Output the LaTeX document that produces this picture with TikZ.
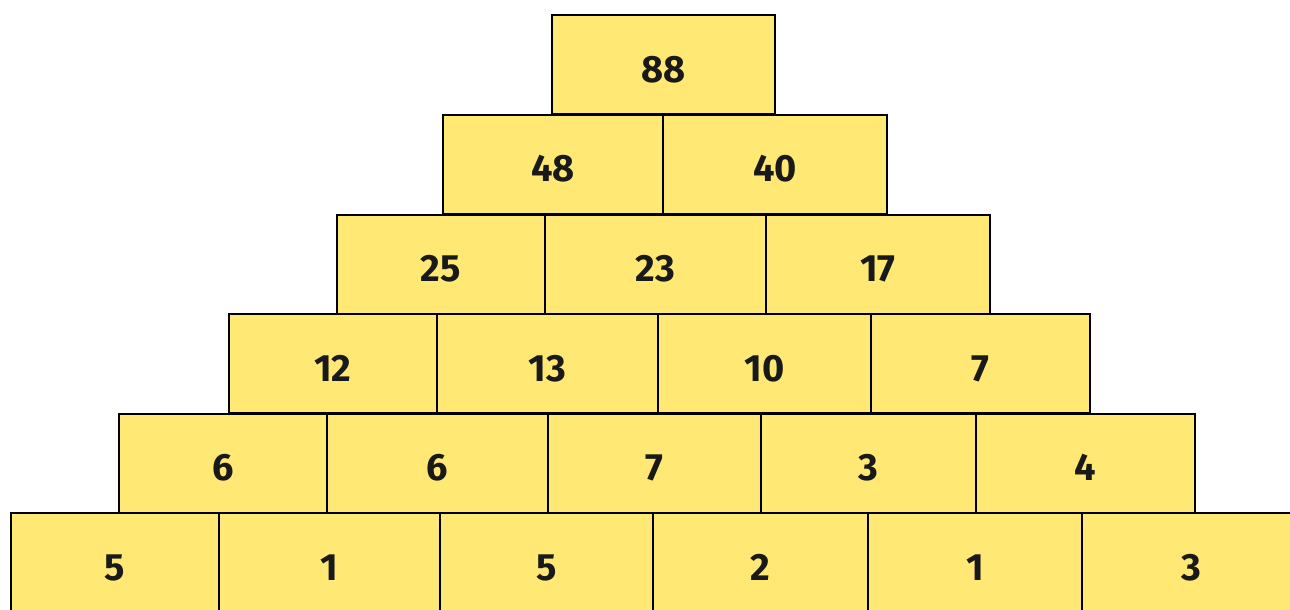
\documentclass[tikz,border=0pt]{standalone}
\usepackage{fontspec}
\setmainfont{Fira Sans}
\usepackage{xcolor}
\usepackage{tikz}
\definecolor{brick}{HTML}{FFE873}

\begin{document}
\begin{tikzpicture}[
  x=1pt, y=-1pt,
  font=\fontsize{38}{40}\selectfont\bfseries,
  b/.style={draw=black, line width=2pt, fill=brick, text=black!90, inner sep=0pt, outer sep=0pt, minimum height=99pt, text height=35pt, text depth=0pt},
  bb/.style={b, minimum height=108pt, text height=27pt}
]
\useasboundingbox (0,0) rectangle (1290,610);
\clip (0,0) rectangle (1290,610);
% top
\node[b, minimum width=223pt] (a1) at (663.5,64.5) {88};
% second row
\node[b, minimum width=220pt] (b1) at (553,164) {48};
\node[b, minimum width=224pt] (b2) at (775,164) {40};
% third row
\node[b, minimum width=208pt] (c1) at (441,264) {25};
\node[b, minimum width=221pt] (c2) at (655.5,264) {23};
\node[b, minimum width=224pt] (c3) at (878,264) {17};
% fourth row
\node[b, minimum width=208pt] (d1) at (333,363.5) {12};
\node[b, minimum width=221pt] (d2) at (547.5,363.5) {13};
\node[b, minimum width=213pt] (d3) at (764.5,363.5) {10};
\node[b, minimum width=219pt] (d4) at (980.5,363.5) {7};
% fifth row
\node[b, minimum width=208pt] (e1) at (223,463) {6};
\node[b, minimum width=221pt] (e2) at (437.5,463) {6};
\node[b, minimum width=213pt] (e3) at (654.5,463) {7};
\node[b, minimum width=215pt] (e4) at (868.5,463) {3};
\node[b, minimum width=219pt] (e5) at (1085.5,463) {4};
% bottom row, cut off by the frame
\node[bb, minimum width=208pt] (f1) at (115,567) {5};
\node[bb, minimum width=221pt] (f2) at (329.5,567) {1};
\node[bb, minimum width=213pt] (f3) at (546.5,567) {5};
\node[bb, minimum width=215pt] (f4) at (760.5,567) {2};
\node[bb, minimum width=214pt] (f5) at (975,567) {1};
\node[bb, minimum width=218pt] (f6) at (1191,567) {3};
\end{tikzpicture}
\end{document}
